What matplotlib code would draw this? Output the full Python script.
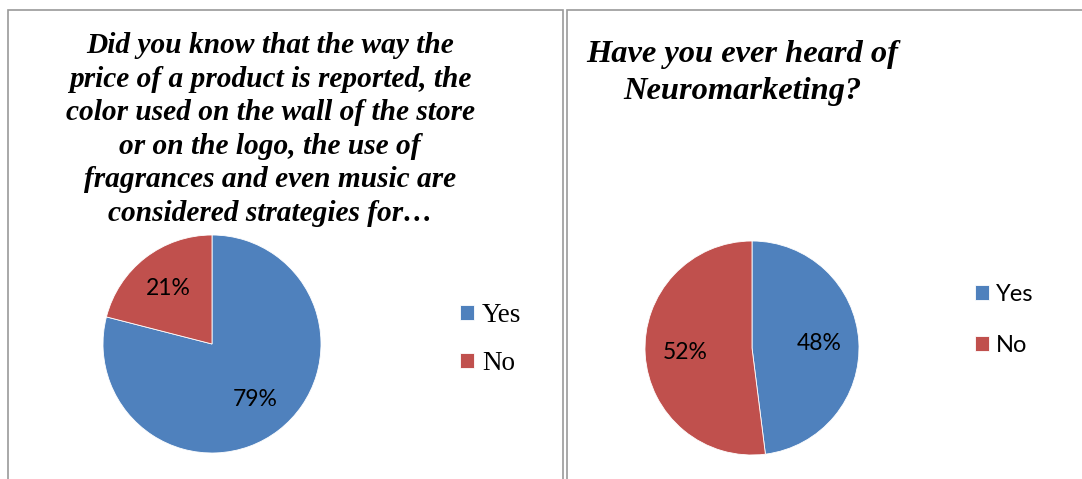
import matplotlib
matplotlib.use("Agg")
import matplotlib.pyplot as plt
from matplotlib.patches import Rectangle

W, H = 1082, 479
DPI = 100

labels = ["Yes", "No"]
colors = ["#4F81BD", "#C0504D"]
left_values = [79, 21]
right_values = [48, 52]
left_title = ("Did you know that the way the\nprice of a product is reported, the\n"
              "color used on the wall of the store\nor on the logo, the use of\n"
              "fragrances and even music are\nconsidered strategies for\u2026")
right_title = "Have you ever heard of\nNeuromarketing?"

fig = plt.figure(figsize=(W / DPI, H / DPI), dpi=DPI)
fig.patch.set_facecolor("white")

def fx(px):
    return px / W

def fy(py):
    return 1 - py / H

# panel borders
fig.add_artist(Rectangle((fx(8), fy(490)), fx(563 - 8), (490 - 10) / H,
                         transform=fig.transFigure, fill=False,
                         edgecolor="#9a9a9a", linewidth=1.2))
fig.add_artist(Rectangle((fx(567), fy(490)), fx(1100 - 567), (490 - 10) / H,
                         transform=fig.transFigure, fill=False,
                         edgecolor="#9a9a9a", linewidth=1.2))

def make_pie(cx, cy, r, values, pctdist, legend_font, legend_size, legend_pos, legend_spacing):
    ax = fig.add_axes([fx(cx - r), fy(cy + r), (2 * r) / W, (2 * r) / H])
    wedges, texts, autotexts = ax.pie(
        values, colors=colors, startangle=90, counterclock=False,
        autopct=lambda p: f"{p:.0f}%", pctdistance=pctdist, radius=1,
        wedgeprops=dict(edgecolor="white", linewidth=0.6),
        textprops=dict(fontsize=16.5, family="Lato", color="black"))
    ax.set_xlim(-1, 1)
    ax.set_ylim(-1, 1)
    ax.set_aspect("equal")
    ax.axis("off")
    hl = 14 / (legend_size * DPI / 72)
    fig.legend(wedges, labels, loc="upper left",
               bbox_to_anchor=(fx(legend_pos[0]), fy(legend_pos[1])),
               frameon=False, prop=dict(family=legend_font, size=legend_size),
               handlelength=hl, handleheight=hl, handletextpad=0.3,
               labelspacing=legend_spacing, borderpad=0, borderaxespad=0)
    return ax

make_pie(212, 344, 109, left_values, 0.65, "Liberation Serif", 19.5, (460, 303), 0.85)
make_pie(752, 348, 107, right_values, 0.63, "Lato", 17, (975, 284), 1.25)

fig.text(fx(270), fy(32), left_title, ha="center", va="top",
         family="Liberation Serif", fontsize=21.2, fontweight="bold",
         fontstyle="italic", linespacing=1.31)
fig.text(fx(742), fy(40), right_title, ha="center", va="top",
         family="Liberation Serif", fontsize=23.4, fontweight="bold",
         fontstyle="italic", linespacing=1.36)

fig.savefig("out.png", dpi=DPI)
